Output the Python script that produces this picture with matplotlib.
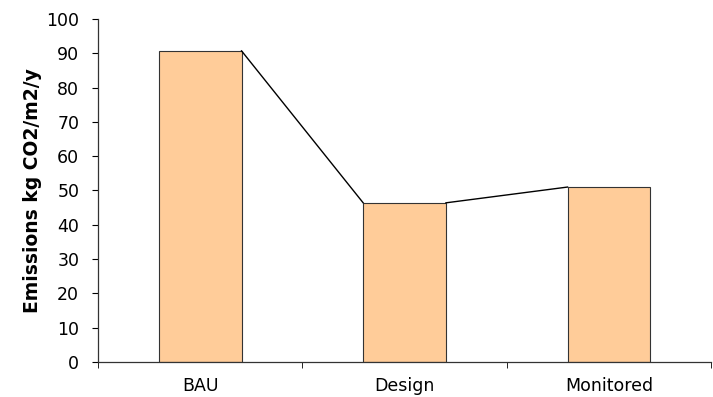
import numpy as np
import matplotlib.pyplot as plt

# data
categories = ['BAU', 'Design', 'Monitored']
emissions = [90.7, 46.4, 51.0]

bar_width = 0.405
x = np.arange(len(categories))

fig = plt.figure(figsize=(7.13, 3.97), dpi=100)
ax = fig.add_axes([0.1374, 0.0882, 0.860, 0.864])

ax.bar(x, emissions, width=bar_width, color='#FFCC99',
       edgecolor='#333333', linewidth=0.8, zorder=2)

# series lines: right edge of one bar to the left edge of the next
for i in range(len(categories) - 1):
    ax.plot([x[i] + bar_width / 2, x[i + 1] - bar_width / 2],
            [emissions[i], emissions[i + 1]],
            color='black', linewidth=1.0, zorder=3)

ax.set_xlim(-0.5, len(categories) - 0.5)
ax.set_ylim(0, 100)
ax.set_yticks(np.arange(0, 101, 10))

# categories labelled in the middle, ticks on the boundaries
ax.set_xticks(x)
ax.set_xticklabels(categories)
ax.tick_params(axis='x', which='major', length=0, pad=11)
ax.set_xticks(np.arange(-0.5, len(categories), 1), minor=True)
ax.tick_params(axis='x', which='minor', length=4.5, direction='out')
ax.tick_params(axis='y', length=4.5, direction='out', pad=9)
ax.tick_params(labelsize=12.5)

for side in ['top', 'right']:
    ax.spines[side].set_visible(False)
for side in ['left', 'bottom']:
    ax.spines[side].set_color('#333333')
    ax.spines[side].set_linewidth(0.9)

ax.set_ylabel('Emissions kg CO2/m2/y', fontsize=13.5, fontweight='bold', labelpad=3)

fig.savefig('out.png', dpi=100)
